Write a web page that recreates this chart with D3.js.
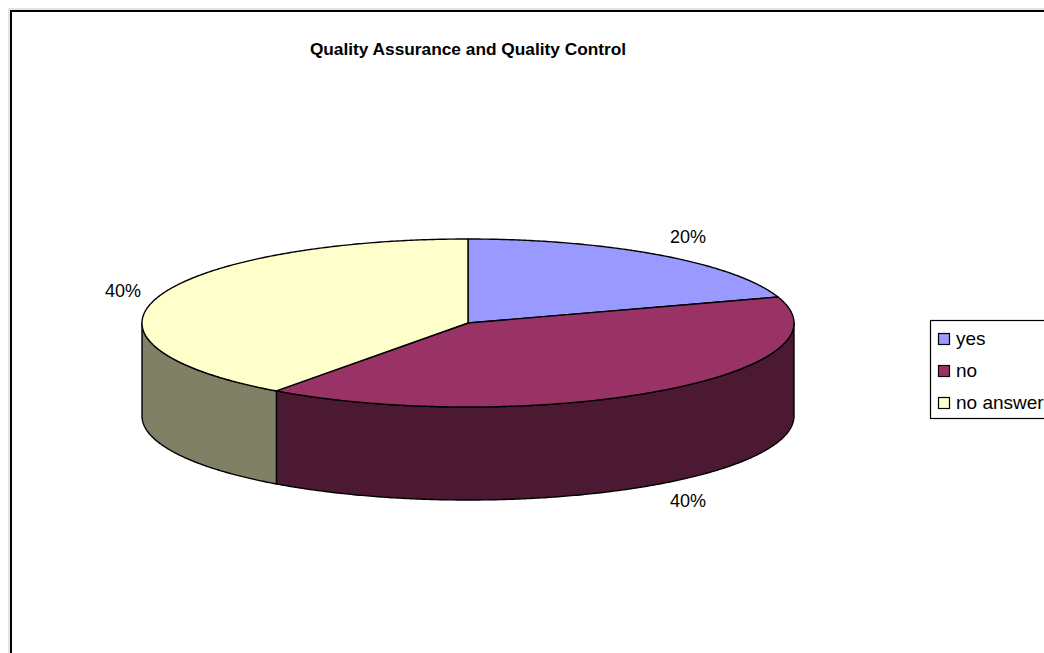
<!DOCTYPE html>
<html>
<head>
<meta charset="utf-8">
<script src="https://cdn.jsdelivr.net/npm/d3@7"></script>
<style>
  html, body { margin: 0; padding: 0; background: #fff; }
  svg { display: block; }
  text { font-family: "Liberation Sans", Arial, sans-serif; fill: #000; }
</style>
</head>
<body>
<svg id="chart" width="1044" height="653"></svg>
<script>
// Survey answers
const categories = ["yes", "no", "no answer"];
const values = [20, 40, 40];
const topColors = ["#9999FF", "#993366", "#FFFFCC"];
const sideColors = ["#4D4D80", "#4C1933", "#808066"];
const title = "Quality Assurance and Quality Control";

const svg = d3.select("#chart");

// Chart frame
svg.append("rect").attr("x", 9).attr("y", 9).attr("width", 1100).attr("height", 700)
  .attr("fill", "none").attr("stroke", "#c8c8c8").attr("stroke-width", 1);
svg.append("rect").attr("x", 11).attr("y", 11).attr("width", 1100).attr("height", 700)
  .attr("fill", "#fff").attr("stroke", "#000").attr("stroke-width", 2);

svg.append("text").attr("x", 468).attr("y", 55).attr("text-anchor", "middle")
  .attr("font-size", 17.3).attr("font-weight", "bold").text(title);

// Elliptical projection of a tilted pie
const cx = 468, cy = 323, rx = 326, ry = 84, depth = 93;
const px = a => cx + rx * Math.sin(a);
const py = a => cy - ry * Math.cos(a);

const total = d3.sum(values);
const pie = d3.pie().sort(null).value(d => d)(values);
const line = d3.line();
const step = Math.PI / 360;

function arcPts(a0, a1, dy) {
  const pts = [];
  const n = Math.max(2, Math.ceil(Math.abs(a1 - a0) / step));
  for (let i = 0; i <= n; i++) {
    const a = a0 + (a1 - a0) * i / n;
    pts.push([px(a), py(a) + dy]);
  }
  return pts;
}

const g = svg.append("g");

// Side walls: only the front half (angles between PI/2 and 3PI/2) is visible
pie.forEach((s, i) => {
  const a0 = Math.max(s.startAngle, Math.PI / 2);
  const a1 = Math.min(s.endAngle, 3 * Math.PI / 2);
  if (a1 <= a0) return;
  const pts = arcPts(a0, a1, 0).concat(arcPts(a1, a0, depth));
  g.append("path").attr("d", line(pts) + "Z")
    .attr("fill", sideColors[i]).attr("stroke", "#000").attr("stroke-width", 1.4)
    .attr("stroke-linejoin", "round");
});

// Top faces
pie.forEach((s, i) => {
  const pts = [[cx, cy]].concat(arcPts(s.startAngle, s.endAngle, 0));
  g.append("path").attr("d", line(pts) + "Z")
    .attr("fill", topColors[i]).attr("stroke", "#000").attr("stroke-width", 1.4)
    .attr("stroke-linejoin", "round");
});

// Percentage labels
const fmt = d3.format(".0%");
const labelPos = [[688, 243], [688, 507], [123, 297]];
pie.forEach((s, i) => {
  svg.append("text").attr("x", labelPos[i][0]).attr("y", labelPos[i][1])
    .attr("text-anchor", "middle").attr("font-size", 18)
    .text(fmt(s.value / total));
});

// Legend
const legend = svg.append("g");
legend.append("rect").attr("x", 930.5).attr("y", 320.5).attr("width", 200).attr("height", 98)
  .attr("fill", "#fff").attr("stroke", "#000").attr("stroke-width", 1.2);
const ly = d3.scalePoint().domain(categories).range([339, 403]);
categories.forEach((c, i) => {
  legend.append("rect").attr("x", 938.5).attr("y", ly(c) - 5.5).attr("width", 11).attr("height", 11)
    .attr("fill", topColors[i]).attr("stroke", "#000").attr("stroke-width", 1.2);
  legend.append("text").attr("x", 956).attr("y", ly(c) + 6).attr("font-size", 19).text(c);
});
</script>
</body>
</html>
